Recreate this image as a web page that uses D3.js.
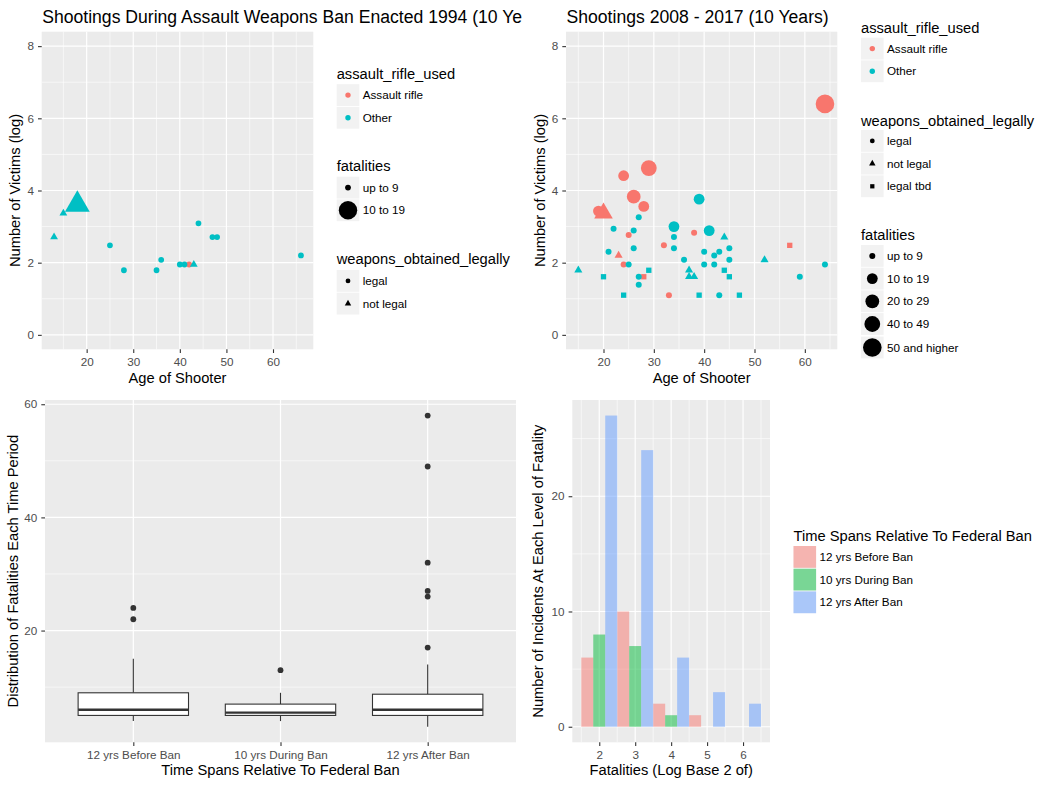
<!DOCTYPE html>
<html>
<head>
<meta charset="utf-8">
<script src="https://cdn.jsdelivr.net/npm/d3@7"></script>
<style>
  body { margin: 0; background: #fff; }
</style>
</head>
<body>
<svg id="chart" width="1048" height="786"></svg>
<script>
// rows: [age, log(victims), rifle, weapons legal, fatalities band]
const banShootings = [
    [13, 2.71, "Other", "not legal", "up to 9"],
    [15, 3.37, "Other", "not legal", "up to 9"],
    [18, 3.61, "Other", "not legal", "10 to 19"],
    [25, 2.48, "Other", "legal", "up to 9"],
    [28, 1.79, "Other", "legal", "up to 9"],
    [35, 1.79, "Other", "legal", "up to 9"],
    [36, 2.08, "Other", "legal", "up to 9"],
    [42, 1.95, "Assault rifle", "legal", "up to 9"],
    [40, 1.95, "Other", "legal", "up to 9"],
    [41, 1.95, "Other", "legal", "up to 9"],
    [43, 1.95, "Other", "not legal", "up to 9"],
    [44, 3.09, "Other", "legal", "up to 9"],
    [47, 2.71, "Other", "legal", "up to 9"],
    [48, 2.71, "Other", "legal", "up to 9"],
    [66, 2.20, "Other", "legal", "up to 9"]
];

const recentShootings = [
    [64, 6.40, "Assault rifle", "legal", "50 and higher"],
    [29, 4.62, "Assault rifle", "legal", "40 to 49"],
    [24, 4.41, "Assault rifle", "legal", "10 to 19"],
    [26, 3.83, "Assault rifle", "legal", "20 to 29"],
    [28, 3.56, "Assault rifle", "legal", "10 to 19"],
    [19, 3.43, "Assault rifle", "legal", "10 to 19"],
    [20, 3.37, "Assault rifle", "not legal", "20 to 29"],
    [25, 2.77, "Assault rifle", "legal", "up to 9"],
    [38, 2.83, "Assault rifle", "legal", "up to 9"],
    [32, 2.48, "Assault rifle", "legal", "up to 9"],
    [23, 2.20, "Assault rifle", "not legal", "up to 9"],
    [24, 1.95, "Assault rifle", "legal", "up to 9"],
    [28, 1.61, "Assault rifle", "legal tbd", "up to 9"],
    [57, 2.48, "Assault rifle", "legal tbd", "up to 9"],
    [33, 1.10, "Assault rifle", "legal", "up to 9"],
    [39, 3.76, "Other", "legal", "10 to 19"],
    [34, 3.00, "Other", "legal", "10 to 19"],
    [41, 2.89, "Other", "legal", "10 to 19"],
    [27, 3.26, "Other", "legal", "up to 9"],
    [22, 2.94, "Other", "legal", "up to 9"],
    [26, 2.89, "Other", "legal", "up to 9"],
    [34, 2.71, "Other", "legal", "up to 9"],
    [34, 2.40, "Other", "legal", "up to 9"],
    [21, 2.30, "Other", "legal", "up to 9"],
    [26, 2.40, "Other", "legal", "up to 9"],
    [36, 2.08, "Other", "legal", "up to 9"],
    [40, 2.30, "Other", "legal", "up to 9"],
    [42, 2.20, "Other", "legal", "up to 9"],
    [43, 2.30, "Other", "legal", "up to 9"],
    [45, 2.40, "Other", "legal", "up to 9"],
    [45, 2.08, "Other", "legal", "up to 9"],
    [25, 1.95, "Other", "legal", "up to 9"],
    [40, 1.95, "Other", "legal", "up to 9"],
    [42, 1.95, "Other", "legal", "up to 9"],
    [64, 1.95, "Other", "legal", "up to 9"],
    [27, 1.61, "Other", "legal", "up to 9"],
    [59, 1.61, "Other", "legal", "up to 9"],
    [27, 1.39, "Other", "legal", "up to 9"],
    [43, 1.10, "Other", "legal", "up to 9"],
    [44, 2.71, "Other", "not legal", "up to 9"],
    [52, 2.08, "Other", "not legal", "up to 9"],
    [15, 1.79, "Other", "not legal", "up to 9"],
    [37, 1.79, "Other", "not legal", "up to 9"],
    [37, 1.61, "Other", "not legal", "up to 9"],
    [38, 1.61, "Other", "not legal", "up to 9"],
    [20, 1.61, "Other", "legal tbd", "up to 9"],
    [29, 1.79, "Other", "legal tbd", "up to 9"],
    [44, 1.79, "Other", "legal tbd", "up to 9"],
    [45, 1.61, "Other", "legal tbd", "up to 9"],
    [24, 1.10, "Other", "legal tbd", "up to 9"],
    [39, 1.10, "Other", "legal tbd", "up to 9"],
    [47, 1.10, "Other", "legal tbd", "up to 9"]
];

const rifleLevels = ["Assault rifle", "Other"];
const legalLevels = ["legal", "not legal", "legal tbd"];
const banFatalLevels = ["up to 9", "10 to 19"];
const recentFatalLevels = ["up to 9", "10 to 19", "20 to 29", "40 to 49", "50 and higher"];

// boxplot summary per time span
const spanNames = ["12 yrs Before Ban", "10 yrs During Ban", "12 yrs After Ban"];
const boxLow = [4, 4, 3];
const boxQ1 = [5, 5, 5];
const boxMedian = [6, 5.5, 6];
const boxQ3 = [9, 7, 8.75];
const boxHigh = [15, 9, 14];
const boxOutliers = [[22, 24], [13], [17, 26, 27, 32, 49, 58]];

// histogram counts, log2(fatalities) bins
const histBins = [2, 3, 4, 5, 6];
const histBefore = [6, 10, 2, 1, 0];
const histDuring = [8, 7, 1, 0, 0];
const histAfter = [27, 24, 6, 3, 2];

const FONT = '"Liberation Sans", Arial, Helvetica, sans-serif';
const svg = d3.select("#chart");

const tlPanel = {x0: 41.7, x1: 313.3, y0: 31.7, y1: 349.3};
const trPanel = {x0: 566, x1: 837.3, y0: 31.7, y1: 349.3};
const blPanel = {x0: 45, x1: 516, y0: 400, y1: 742.3};
const brPanel = {x0: 572.3, x1: 770, y0: 400, y1: 742.3};

const rifleColor = d3.scaleOrdinal().domain(rifleLevels).range(["#F8766D", "#00BFC4"]);
const shapeOf = {"legal": d3.symbolCircle, "not legal": d3.symbolTriangle, "legal tbd": d3.symbolSquare};

function expand(ext, m) {
    const d = (ext[1] - ext[0]) * (m || 0.05);
    return [ext[0] - d, ext[1] + d];
}

function minorOf(ticks, domain) {
    const step = ticks[1] - ticks[0];
    const out = [];
    for (let v = ticks[0] - step / 2; v <= domain[1]; v += step) {
        if (v >= domain[0]) out.push(v);
    }
    return out;
}

function txt(g, x, y, s, size, opts) {
    opts = opts || {};
    const t = g.append("text")
        .attr("x", x).attr("y", y)
        .attr("font-family", FONT)
        .attr("font-size", size)
        .attr("fill", opts.fill || "#000")
        .attr("text-anchor", opts.anchor || "start")
        .text(s);
    if (opts.rotate) t.attr("transform", `rotate(-90,${x},${y})`);
    return t;
}

function panelBase(g, p, x, y, xMajor, xMinor, yMajor, yMinor) {
    g.append("rect").attr("x", p.x0).attr("y", p.y0)
        .attr("width", p.x1 - p.x0).attr("height", p.y1 - p.y0)
        .attr("fill", "#EBEBEB");
    const lines = (vals, w, vertical, s) => {
        g.selectAll(null).data(vals).enter().append("line")
            .attr("x1", d => vertical ? s(d) : p.x0)
            .attr("x2", d => vertical ? s(d) : p.x1)
            .attr("y1", d => vertical ? p.y0 : s(d))
            .attr("y2", d => vertical ? p.y1 : s(d))
            .attr("stroke", "#fff").attr("stroke-width", w);
    };
    lines(xMinor, 0.6, true, x);
    lines(yMinor, 0.6, false, y);
    lines(xMajor, 1.2, true, x);
    lines(yMajor, 1.2, false, y);
}

function styleAxis(a) {
    a.attr("font-family", FONT).attr("font-size", 11.7);
    a.select(".domain").remove();
    a.selectAll(".tick line").attr("stroke", "#333").attr("stroke-width", 1.1);
    a.selectAll(".tick text").attr("fill", "#4D4D4D");
}

function drawAxes(g, p, x, y, xTicks, yTicks, fmt) {
    const bottom = d3.axisBottom(x).tickValues(xTicks).tickSize(3.7).tickPadding(4.2);
    const left = d3.axisLeft(y).tickValues(yTicks).tickSize(3.7).tickPadding(4);
    if (fmt) {
        bottom.tickFormat(fmt);
        left.tickFormat(fmt);
    }
    styleAxis(g.append("g").attr("transform", `translate(0,${p.y1})`).call(bottom));
    styleAxis(g.append("g").attr("transform", `translate(${p.x0},0)`).call(left));
}

function symbolPath(shape, r) {
    return d3.symbol().type(shapeOf[shape]).size(Math.PI * r * r)();
}

function keyBox(g, x, top) {
    g.append("rect").attr("x", x).attr("y", top).attr("width", 22.6).attr("height", 21.8)
        .attr("fill", "#F2F2F2");
}

function scatterPanel(p, rows, sizeRadius, title, clipW) {
    const g = svg.append("g");
    const x = d3.scaleLinear().domain(expand(d3.extent(rows, r => r[0]))).range([p.x0, p.x1]);
    const y = d3.scaleLinear().domain(expand([0, 8])).range([p.y1, p.y0]);
    const xMajor = x.ticks(5), yMajor = y.ticks(5);
    panelBase(g, p, x, y, xMajor, minorOf(xMajor, x.domain()), yMajor, minorOf(yMajor, y.domain()));

    g.selectAll(null).data(rows).enter().append("path")
        .attr("d", r => symbolPath(r[3], sizeRadius(r[4])))
        .attr("transform", r => `translate(${x(r[0])},${y(r[1])})`)
        .attr("fill", r => rifleColor(r[2]));

    drawAxes(g, p, x, y, xMajor, yMajor, d3.format("d"));

    const cx = (p.x0 + p.x1) / 2, cy = (p.y0 + p.y1) / 2;
    txt(g, cx, 383, "Age of Shooter", 14.7, {anchor: "middle"});
    txt(g, p.x0 - 21.5, cy, "Number of Victims (log)", 14.7, {anchor: "middle", rotate: true});

    const clipId = "clip" + Math.round(p.x0);
    svg.append("clipPath").attr("id", clipId).append("rect")
        .attr("x", clipW[0]).attr("y", 0).attr("width", clipW[1] - clipW[0]).attr("height", 30);
    txt(g, p.x0 + 0.5, 23, title, 17.6).attr("clip-path", `url(#${clipId})`);
    return g;
}

// legends -------------------------------------------------
function colorLegend(g, lx, titleY, keyTops) {
    txt(g, lx, titleY, "assault_rifle_used", 14.7);
    rifleLevels.forEach((lv, i) => {
        keyBox(g, lx, keyTops[i]);
        g.append("circle").attr("cx", lx + 11.3).attr("cy", keyTops[i] + 10.9).attr("r", 2.7)
            .attr("fill", rifleColor(lv));
        txt(g, lx + 26, keyTops[i] + 15, lv, 11.7);
    });
}

function shapeLegend(g, lx, titleY, keyTops, levels) {
    txt(g, lx, titleY, "weapons_obtained_legally", 14.7);
    levels.forEach((lv, i) => {
        keyBox(g, lx, keyTops[i]);
        g.append("path").attr("d", symbolPath(lv, 2.4))
            .attr("transform", `translate(${lx + 11.3},${keyTops[i] + 10.9})`)
            .attr("fill", "#000");
        txt(g, lx + 26, keyTops[i] + 15, lv, 11.7);
    });
}

function sizeLegend(g, lx, titleY, keyTops, levels, sizeRadius) {
    txt(g, lx, titleY, "fatalities", 14.7);
    levels.forEach((lv, i) => {
        keyBox(g, lx, keyTops[i]);
        g.append("circle").attr("cx", lx + 11.3).attr("cy", keyTops[i] + 10.9)
            .attr("r", sizeRadius(lv)).attr("fill", "#000");
        txt(g, lx + 26, keyTops[i] + 15, lv, 11.7);
    });
}

const banSize = d3.scaleOrdinal().domain(banFatalLevels).range([2.9, 9.2]);
const recentSize = d3.scaleOrdinal().domain(recentFatalLevels).range([3, 5.4, 6.9, 7.9, 9.3]);

const tl = scatterPanel(tlPanel, banShootings, banSize,
    "Shootings During Assault Weapons Ban Enacted 1994 (10 Years)", [0, 522]);
colorLegend(tl, 336.7, 78.5, [84.2, 106.9]);
sizeLegend(tl, 336.7, 171, [176.7, 199.4], banFatalLevels, banSize);
shapeLegend(tl, 336.7, 263.5, [270, 292.7], ["legal", "not legal"]);

const tr = scatterPanel(trPanel, recentShootings, recentSize,
    "Shootings 2008 - 2017 (10 Years)", [524, 1048]);
colorLegend(tr, 861, 32.5, [37.7, 60.4]);
shapeLegend(tr, 861, 126, [130, 152.7, 175.4], legalLevels);
sizeLegend(tr, 861, 240, [245, 267.7, 290.4, 313.1, 336.6], recentFatalLevels, recentSize);

// boxplot -------------------------------------------------
(function () {
    const p = blPanel;
    const g = svg.append("g");
    const x = d3.scalePoint().domain(spanNames).range([p.x0, p.x1]).padding(0.6);
    const allVals = boxLow.concat(boxHigh, d3.merge(boxOutliers));
    const y = d3.scaleLinear().domain(expand(d3.extent(allVals))).range([p.y1, p.y0]);
    const yMajor = y.ticks(3);
    panelBase(g, p, x, y, spanNames, [], yMajor, minorOf(yMajor, y.domain()));

    const half = x.step() * 0.75 / 2;
    spanNames.forEach((name, i) => {
        const cx = x(name);
        g.append("line").attr("x1", cx).attr("x2", cx).attr("y1", y(boxQ3[i])).attr("y2", y(boxHigh[i]))
            .attr("stroke", "#333").attr("stroke-width", 1.1);
        g.append("line").attr("x1", cx).attr("x2", cx).attr("y1", y(boxQ1[i])).attr("y2", y(boxLow[i]))
            .attr("stroke", "#333").attr("stroke-width", 1.1);
        g.append("rect").attr("x", cx - half).attr("width", half * 2)
            .attr("y", y(boxQ3[i])).attr("height", y(boxQ1[i]) - y(boxQ3[i]))
            .attr("fill", "#fff").attr("stroke", "#333").attr("stroke-width", 1.1);
        g.append("line").attr("x1", cx - half).attr("x2", cx + half)
            .attr("y1", y(boxMedian[i])).attr("y2", y(boxMedian[i]))
            .attr("stroke", "#333").attr("stroke-width", 2.3);
        g.selectAll(null).data(boxOutliers[i]).enter().append("circle")
            .attr("cx", cx).attr("cy", d => y(d)).attr("r", 2.9).attr("fill", "#333");
    });

    drawAxes(g, p, x, y, spanNames, yMajor);
    txt(g, (p.x0 + p.x1) / 2, 775, "Time Spans Relative To Federal Ban", 14.7, {anchor: "middle"});
    txt(g, 18, (p.y0 + p.y1) / 2, "Distribution of Fatalities Each Time Period", 14.7,
        {anchor: "middle", rotate: true});
})();

// histogram -----------------------------------------------
(function () {
    const p = brPanel;
    const g = svg.append("g");
    const series = [histBefore, histDuring, histAfter];
    const fills = ["#F8766D", "#00BA38", "#619CFF"];
    const x = d3.scaleLinear()
        .domain(expand([d3.min(histBins) - 0.5, d3.max(histBins) + 0.5]))
        .range([p.x0, p.x1]);
    const y = d3.scaleLinear().domain(expand([0, d3.max(d3.merge(series))])).range([p.y1, p.y0]);
    const xMajor = x.ticks(5), yMajor = y.ticks(3);
    panelBase(g, p, x, y, xMajor, minorOf(xMajor, x.domain()), yMajor, minorOf(yMajor, y.domain()));

    series.forEach((counts, s) => {
        g.selectAll(null).data(counts).enter().append("rect")
            .attr("x", (d, i) => x(histBins[i] - 0.5 + s / 3))
            .attr("width", x(1 / 3) - x(0))
            .attr("y", d => y(d))
            .attr("height", d => y(0) - y(d))
            .attr("fill", fills[s]).attr("fill-opacity", 0.5);
    });

    drawAxes(g, p, x, y, xMajor, yMajor, d3.format("d"));
    txt(g, (p.x0 + p.x1) / 2, 775, "Fatalities (Log Base 2 of)", 14.7, {anchor: "middle"});
    txt(g, 543, (p.y0 + p.y1) / 2, "Number of Incidents At Each Level of Fatality", 14.7,
        {anchor: "middle", rotate: true});

    const lx = 793.5;
    txt(g, lx, 541, "Time Spans Relative To Federal Ban", 14.7);
    spanNames.forEach((name, i) => {
        const top = 546 + i * 22.7;
        keyBox(g, lx, top);
        g.append("rect").attr("x", lx).attr("y", top).attr("width", 22.6).attr("height", 21.8)
            .attr("fill", fills[i]).attr("fill-opacity", 0.5);
        txt(g, lx + 26, top + 15, name, 11.7);
    });
})();
</script>
</body>
</html>
